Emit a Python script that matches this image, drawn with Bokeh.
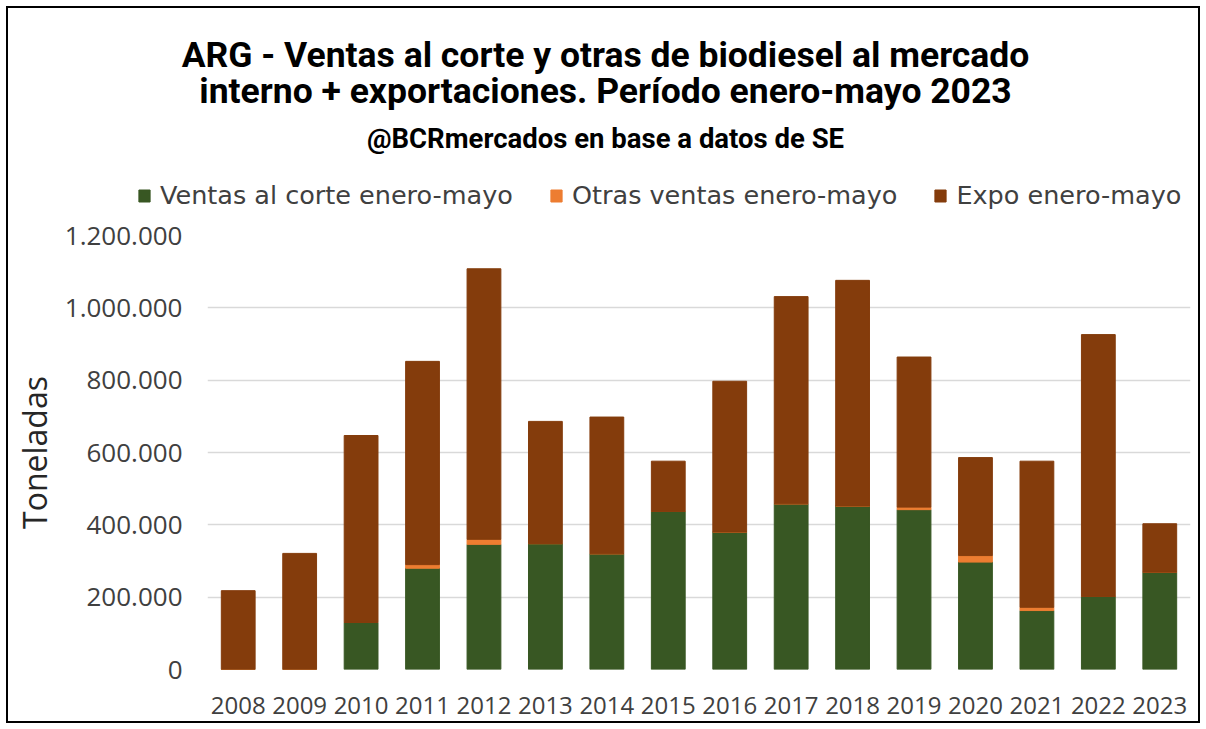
from bokeh.plotting import figure
from bokeh.layouts import column
from bokeh.models import ColumnDataSource, Range1d, FixedTicker, CustomJSTickFormatter, Label, Legend
from bokeh.embed import file_html
from bokeh.resources import INLINE

years = ["2008", "2009", "2010", "2011", "2012", "2013", "2014", "2015",
         "2016", "2017", "2018", "2019", "2020", "2021", "2022", "2023"]
ventas_corte = [0, 0, 130000, 280000, 346000, 348000, 320000, 437000,
                380000, 458000, 452000, 442000, 297000, 163000, 202000, 269000]
otras_ventas = [0, 0, 0, 10000, 14000, 0, 0, 0,
                0, 0, 0, 7000, 18000, 9000, 0, 0]
expo = [218000, 321000, 517000, 562000, 748000, 338000, 378000, 139000,
        417000, 573000, 624000, 415000, 271000, 404000, 724000, 134000]
y_ticks = [0, 200000, 400000, 600000, 800000, 1000000, 1200000]
series_names = ["Ventas al corte enero-mayo", "Otras ventas enero-mayo", "Expo enero-mayo"]
colors = ["#385723", "#ED7D31", "#843C0C"]
title_lines = ["ARG - Ventas al corte y otras de biodiesel al mercado",
               "interno + exportaciones. Período enero-mayo 2023"]
subtitle = "@BCRmercados en base a datos de SE"

source = ColumnDataSource(dict(year=years, verde=ventas_corte, otras=otras_ventas, expo=expo))

# ---------- header (titles + legend) ----------
HW, HH = 1190, 204
h = figure(width=HW, height=HH, x_range=Range1d(0, HW), y_range=Range1d(0, HH),
           min_border=0, x_axis_location=None, y_axis_location=None,
           output_backend="svg", toolbar_location=None, frame_align=False)
h.grid.visible = False
h.outline_line_color = None

# legend proxies, kept outside the visible range
proxies = [h.vbar(x=[-5000], top=[-5000], width=1, color=c) for c in colors]
legend = Legend(items=[(series_names[i], [proxies[i]]) for i in range(3)],
                location=(129, 2), orientation="horizontal",
                border_line_color=None, background_fill_alpha=0,
                label_text_font="DejaVu Sans", label_text_font_size="25.5px",
                label_text_color="#404040", glyph_width=14, glyph_height=15,
                label_standoff=9, spacing=36, padding=0, margin=0)
h.add_layout(legend, "center")

title_x = 597
h.add_layout(Label(x=title_x, y=157.5, text=title_lines[0], text_align="center", text_baseline="alphabetic",
                   text_font="Roboto", text_font_style="bold", text_font_size="35.5px", text_color="#000000"))
h.add_layout(Label(x=title_x, y=122, text=title_lines[1], text_align="center", text_baseline="alphabetic",
                   text_font="Roboto", text_font_style="bold", text_font_size="35.5px", text_color="#000000"))
h.add_layout(Label(x=title_x, y=74, text=subtitle, text_align="center", text_baseline="alphabetic",
                   text_font="Roboto", text_font_style="bold", text_font_size="27.5px", text_color="#000000"))

# ---------- main chart ----------
p = figure(x_range=years, y_range=Range1d(0, 1200000), width=1190, height=509,
           min_border_left=199, min_border_right=8, min_border_top=23, min_border_bottom=52,
           output_backend="svg", toolbar_location=None, frame_align=False)

p.vbar_stack(["verde", "otras", "expo"], x="year", width=0.55, color=colors, source=source)

p.outline_line_color = None
p.xgrid.grid_line_color = None
p.ygrid.grid_line_color = "#d9d9d9"
p.ygrid.grid_line_width = 1.5

p.yaxis.ticker = FixedTicker(ticks=y_ticks)
p.yaxis.formatter = CustomJSTickFormatter(code="return tick.toFixed(0).replace(/\\B(?=(\\d{3})+(?!\\d))/g, '.');")
for ax in (p.xaxis[0], p.yaxis[0]):
    ax.axis_line_color = None
    ax.major_tick_line_color = None
    ax.minor_tick_line_color = None
    ax.major_label_text_font = "Open Sans"
    ax.major_label_text_color = "#404040"
p.yaxis.major_label_text_font_size = "26px"
p.xaxis.major_label_text_font_size = "24px"
p.yaxis.major_label_standoff = 19
p.xaxis.major_label_standoff = 21
p.yaxis.axis_label = "Toneladas"
p.yaxis.axis_label_text_font = "Open Sans"
p.yaxis.axis_label_text_font_style = "normal"
p.yaxis.axis_label_text_font_size = "32px"
p.yaxis.axis_label_text_color = "#262626"
p.yaxis.axis_label_standoff = 6

layout = column(h, p, spacing=0, margin=(6, 0, 0, 6), styles={"border": "2px solid #000000"})

open("out.html", "w").write(file_html(layout, INLINE))
